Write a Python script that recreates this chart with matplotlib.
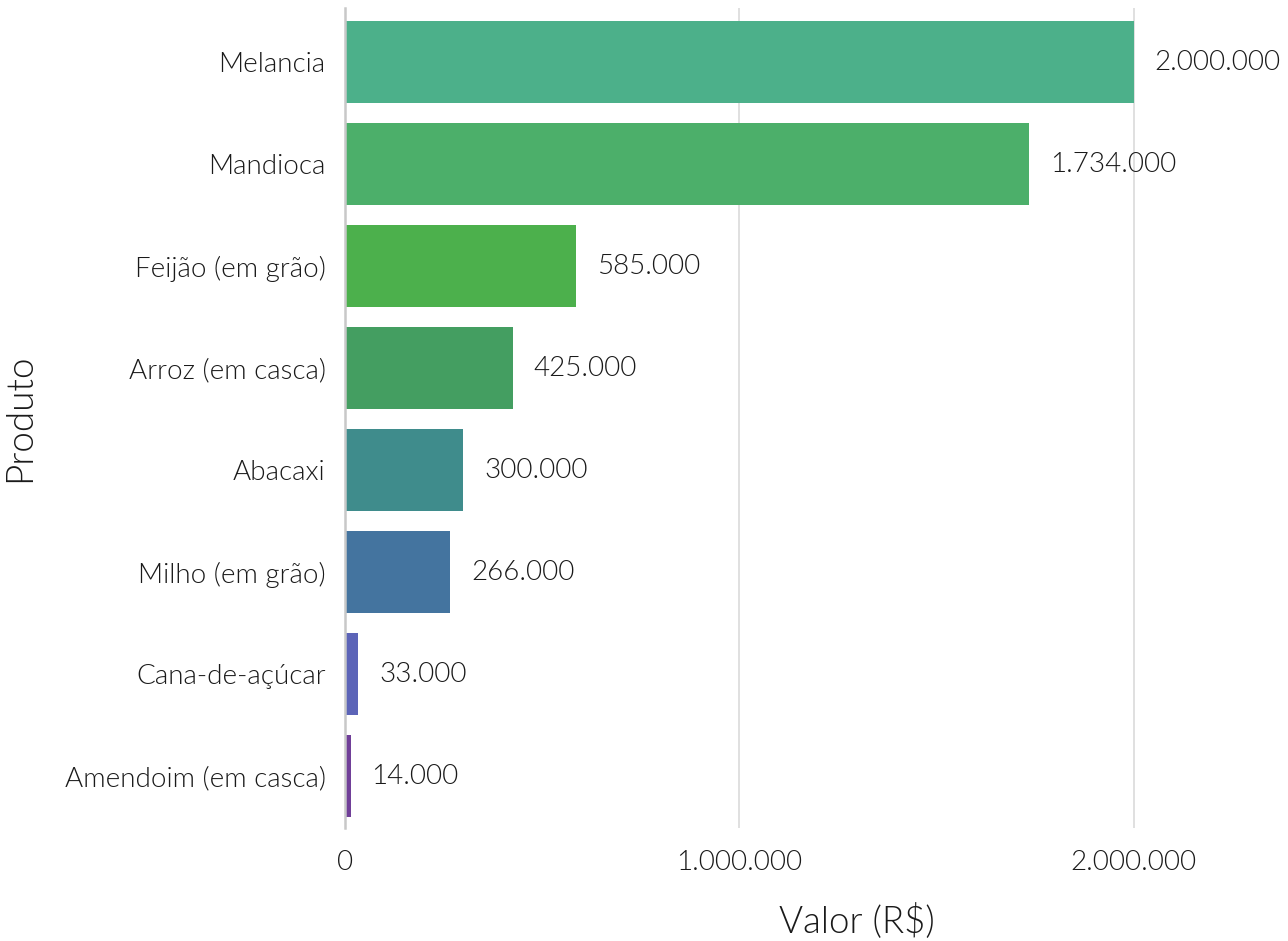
import matplotlib
matplotlib.use("Agg")
import matplotlib.pyplot as plt

produtos = ["Melancia", "Mandioca", "Feijão (em grão)", "Arroz (em casca)",
            "Abacaxi", "Milho (em grão)", "Cana-de-açúcar", "Amendoim (em casca)"]
valores = [2000000, 1734000, 585000, 425000, 300000, 266000, 33000, 14000]
cores = ["#4cb08a", "#4caf6a", "#4cb04c", "#449e61",
         "#3f8c8c", "#44749f", "#5c64b8", "#703f98"]
xticks = [0, 1000000, 2000000]


def fmt(v):
    return f"{v:,}".replace(",", ".")


plt.rcParams["font.family"] = ["Lato", "DejaVu Sans"]
plt.rcParams["font.weight"] = 300
texto = "#1a1a1a"

fig = plt.figure(figsize=(12.88, 9.41), dpi=100)
ax = fig.add_axes([0.268, 0.12, 0.704, 0.8715])

pos = list(range(len(produtos)))
ax.barh(pos, valores, height=0.8, color=cores, zorder=2)
for p, v in zip(pos, valores):
    ax.annotate(fmt(v), (v, p), xytext=(15, 0), textcoords="offset points",
                va="center", ha="left", fontsize=20, color=texto,
                fontweight=300)

ax.set_ylim(len(produtos) - 0.49, -0.53)
ax.set_xlim(0, 2300000)
ax.set_yticks(pos)
ax.set_yticklabels(produtos, fontsize=20, fontweight=300, color=texto)
ax.set_xticks(xticks)
ax.set_xticklabels([fmt(t) for t in xticks], fontsize=20, fontweight=300,
                   color=texto)
ax.tick_params(axis="both", length=0)
ax.tick_params(axis="x", pad=16)
ax.tick_params(axis="y", pad=14)

ax.grid(axis="x", color="#dddddd", linewidth=1.3, zorder=0)
for s in ["top", "right", "bottom"]:
    ax.spines[s].set_visible(False)
ax.spines["left"].set_color("#c8c8c8")
ax.spines["left"].set_linewidth(1.8)

ax.set_xlabel("Valor (R$)", fontsize=26.5, fontweight=300, labelpad=20,
              color=texto)
ax.xaxis.label.set_x(0.5645)
ax.set_ylabel("Produto", fontsize=26.5, fontweight=300, labelpad=20,
              color=texto)

fig.savefig("out.png", dpi=100)
